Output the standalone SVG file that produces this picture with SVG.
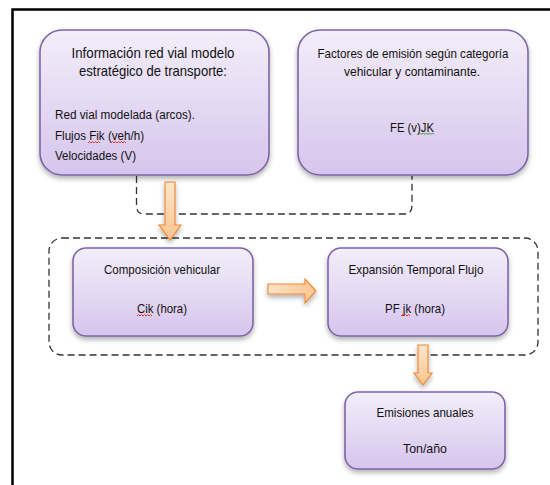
<svg xmlns="http://www.w3.org/2000/svg" width="550" height="485" viewBox="0 0 550 485">
  <defs>
    <linearGradient id="boxFill" x1="0" y1="0" x2="0" y2="1">
      <stop offset="0" stop-color="#f3eefa"/>
      <stop offset="1" stop-color="#d6c5ed"/>
    </linearGradient>
    <linearGradient id="arrowFill" x1="0" y1="0" x2="1" y2="0">
      <stop offset="0" stop-color="#fde3c8"/>
      <stop offset="1" stop-color="#fbc58f"/>
    </linearGradient>
    <linearGradient id="arrowFillV" x1="0" y1="0" x2="0" y2="1">
      <stop offset="0" stop-color="#fde6cc"/>
      <stop offset="1" stop-color="#fbc48c"/>
    </linearGradient>
    <filter id="shadow" x="-10%" y="-10%" width="120%" height="130%">
      <feDropShadow dx="0" dy="3" stdDeviation="2.5" flood-color="#000" flood-opacity="0.3"/>
    </filter>
  </defs>
  <style>
    .box { fill: url(#boxFill); stroke: #7f64a8; stroke-width: 1.6; filter: url(#shadow); }
    .dash { fill: none; stroke: #333; stroke-width: 1.3; stroke-dasharray: 7 4; }
    .arrow { stroke: #f08a3c; stroke-width: 1.2; filter: url(#shadow); }
    .t { font-family: "Liberation Sans", Arial, sans-serif; fill: #111; }
    .big { font-size: 15px; }
    .med { font-size: 13px; }
    .sm { font-size: 12.5px; }
    .squig { fill: none; stroke: #e02020; stroke-width: 0.9; }
    .squigG { fill: none; stroke: #2a9a2a; stroke-width: 0.9; }
  </style>

  <rect width="550" height="485" fill="#fff"/>

  <!-- page frame, open to the right and bottom -->
  <path d="M12.5 485 V9.5 H550" fill="none" stroke="#000" stroke-width="2.5"/>

  <g id="connectors">
    <!-- dashed link joining the two input boxes -->
    <path class="dash" d="M136.5 176 V206 Q136.5 214 144.5 214 H404 Q412 214 412 206 V176"/>
    <!-- dashed grouping around the processing stage -->
    <rect class="dash" x="49" y="238" width="489" height="117" rx="13"/>
    <!-- block arrows -->
    <path class="arrow" fill="url(#arrowFillV)" d="M165 182 H175 V225 H181 L170 240 L159 225 H165 Z"/>
    <path class="arrow" fill="url(#arrowFill)" d="M268 284 H305 V279 L316 291 L305 303 V294 H268 Z"/>
    <path class="arrow" fill="url(#arrowFillV)" d="M418 345 H428 V373 H432 L423 385 L414 373 H418 Z"/>
  </g>

  <g id="info-red-vial">
    <rect class="box" x="40" y="30" width="229" height="145" rx="22"/>
    <text class="t big" x="153" y="58" text-anchor="middle" textLength="163" lengthAdjust="spacingAndGlyphs">Información red vial modelo</text>
    <text class="t big" x="153" y="76" text-anchor="middle" textLength="148" lengthAdjust="spacingAndGlyphs">estratégico de transporte:</text>
    <text class="t sm" x="55" y="119" textLength="140" lengthAdjust="spacingAndGlyphs">Red vial modelada  (arcos).</text>
    <text class="t sm" x="55" y="140" textLength="89" lengthAdjust="spacingAndGlyphs">Flujos Fik (veh/h)</text>
    <text class="t sm" x="55" y="160" textLength="81" lengthAdjust="spacingAndGlyphs">Velocidades (V)</text>
    <path class="squig" d="M88 143 l1.5 -1.5 l1.5 1.5 l1.5 -1.5 l1.5 1.5 l1.5 -1.5 l1.5 1.5 l1.5 -1.5 l1.5 1.5"/>
    <path class="squig" d="M111 143 l1.5 -1.5 l1.5 1.5 l1.5 -1.5 l1.5 1.5 l1.5 -1.5 l1.5 1.5 l1.5 -1.5 l1.5 1.5 l1.5 -1.5 l1.5 1.5"/>
  </g>

  <g id="factores-emision">
    <rect class="box" x="298" y="30" width="230" height="145" rx="22"/>
    <text class="t med" x="413" y="58" text-anchor="middle" textLength="191" lengthAdjust="spacingAndGlyphs">Factores de emisión según categoría</text>
    <text class="t med" x="412" y="76" text-anchor="middle" textLength="136" lengthAdjust="spacingAndGlyphs">vehicular y contaminante.</text>
    <text class="t med" x="412" y="132" text-anchor="middle" textLength="44" lengthAdjust="spacingAndGlyphs">FE (v)JK</text>
    <path class="squigG" d="M419 134.5 l1.5 -1.5 l1.5 1.5 l1.5 -1.5 l1.5 1.5 l1.5 -1.5 l1.5 1.5 l1.5 -1.5 l1.5 1.5 l1.5 -1.5 l1.5 1.5"/>
  </g>

  <g id="composicion-vehicular">
    <rect class="box" x="73" y="248" width="180" height="88" rx="13"/>
    <text class="t med" x="162" y="274" text-anchor="middle" textLength="116" lengthAdjust="spacingAndGlyphs">Composición vehicular</text>
    <text class="t med" x="162" y="313" text-anchor="middle" textLength="50" lengthAdjust="spacingAndGlyphs">Cik (hora)</text>
    <path class="squig" d="M137 316 l1.5 -1.5 l1.5 1.5 l1.5 -1.5 l1.5 1.5 l1.5 -1.5 l1.5 1.5 l1.5 -1.5 l1.5 1.5 l1.5 -1.5 l1.5 1.5"/>
  </g>

  <g id="expansion-temporal">
    <rect class="box" x="328" y="248" width="180" height="88" rx="13"/>
    <text class="t med" x="416" y="274" text-anchor="middle" textLength="135" lengthAdjust="spacingAndGlyphs">Expansión Temporal Flujo</text>
    <text class="t med" x="415" y="313" text-anchor="middle" textLength="60" lengthAdjust="spacingAndGlyphs">PF jk (hora)</text>
    <path class="squig" d="M401 316 l1.5 -1.5 l1.5 1.5 l1.5 -1.5 l1.5 1.5 l1.5 -1.5 l1.5 1.5"/>
  </g>

  <g id="emisiones-anuales">
    <rect class="box" x="345" y="392" width="160" height="77" rx="13"/>
    <text class="t med" x="425" y="417" text-anchor="middle" textLength="97" lengthAdjust="spacingAndGlyphs">Emisiones anuales</text>
    <text class="t med" x="425" y="453" text-anchor="middle" textLength="44" lengthAdjust="spacingAndGlyphs">Ton/año</text>
  </g>
</svg>
